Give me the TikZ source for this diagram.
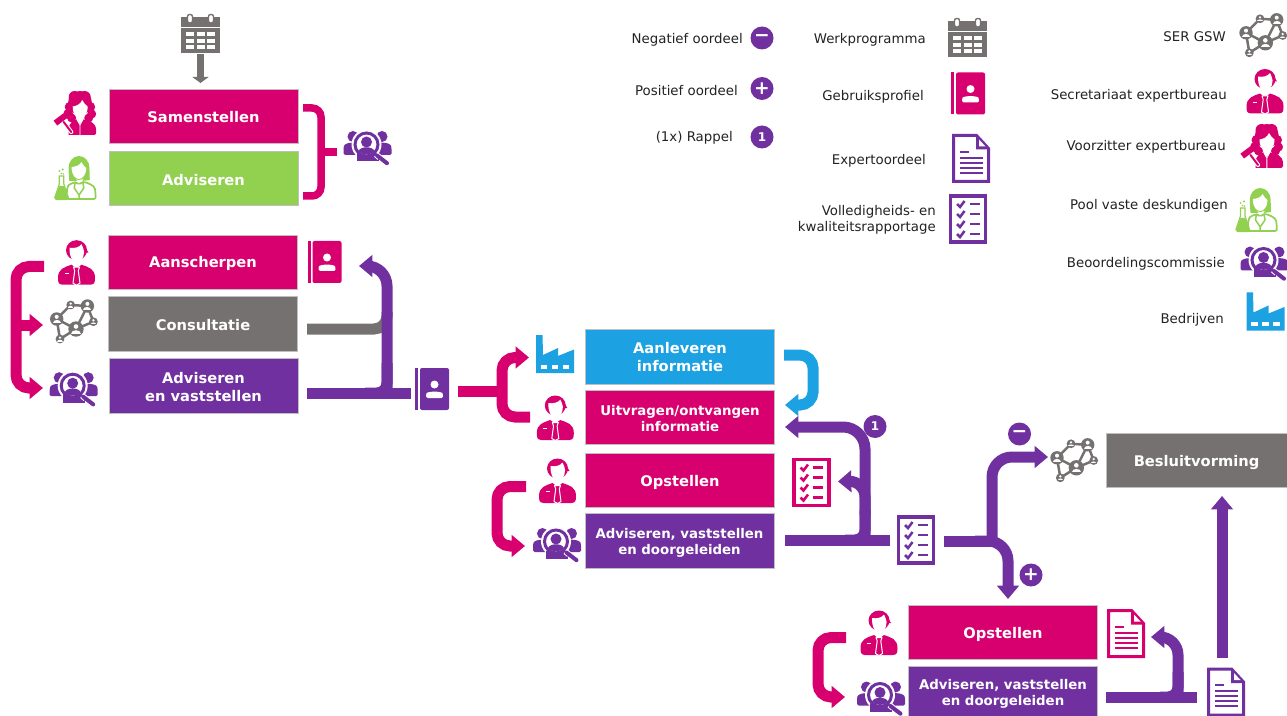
\documentclass[tikz,border=0pt]{standalone}
\usepackage{fontspec}
\setmainfont{DejaVu Sans}
\usetikzlibrary{arrows.meta,calc}
\newdimen\pxu \pxu=0.75pt
\definecolor{brandpink}{HTML}{D8006E}
\definecolor{brandpurple}{HTML}{7030A0}
\definecolor{brandgreen}{HTML}{92D050}
\definecolor{brandgray}{HTML}{767171}
\definecolor{brandblue}{HTML}{1CA1E2}
\definecolor{ink}{HTML}{222222}
% lowers the text of a node: extra height on its first line
\newcommand\dn[2]{\raisebox{0pt}[\dimexpr\height+#1pt][\depth]{#2}}
\newcommand\netdisc[3]{%
  \fill ({#1},{#2}) circle[radius=#3];
  \fill[white] ({#1},{#2-.32*#3}) circle[radius={.3*#3}];
  \fill[white] ({#1-.6*#3},{#2+.6*#3}) .. controls ({#1-.6*#3},{#2+.02*#3}) and ({#1+.6*#3},{#2+.02*#3}) .. ({#1+.6*#3},{#2+.6*#3}) -- cycle;}
\tikzset{
  flowbox/.style={rectangle,fill=#1,draw=black!25,line width=.4pt,minimum width=189\pxu,minimum height=54.5\pxu,inner sep=0pt,text=white,align=center,font=\bfseries\fontsize{11}{13.5}\selectfont},
  smallbox/.style={font=\bfseries\fontsize{10}{12}\selectfont},
  iconbox/.style 2 args={rectangle,minimum width=#1\pxu,minimum height=#2\pxu,inner sep=0pt},
  legendtext/.style={anchor=east,inner sep=0pt,text=ink,align=right,yshift=-1.2pt,font=\fontsize{10}{12}\selectfont},
  badge/.style={circle,fill=brandpurple,minimum size=23\pxu,inner sep=0pt,text=white,font=\bfseries\fontsize{9}{9}\selectfont},
  signbadge/.style={badge,font=\bfseries\fontsize{14}{14}\selectfont},
  conn/.style={draw=#1,line width=11\pxu,rounded corners=13\pxu},
  arrowconn/.style={conn=#1,-{Triangle[length=10pt,width=16pt]}},
  pics/calicon/.style={code={
    \fill[#1] (-19.5,-16.5) rectangle (19.5,19.5);
    \fill[white] (-19.5,-7) rectangle (19.5,-6);
    \foreach \cx in {-10.5,0,10.5}\foreach \cy in {0,6.7,13.4}
      \fill[white] (\cx-4,\cy-2) rectangle (\cx+4,\cy+2);
    \foreach \cx in {-10.5,10.5}
      \draw[#1,fill=white,line width=1.4\pxu,rounded corners=2\pxu] (\cx-2.5,-19.5) rectangle (\cx+2.5,-11);
  }},
  pics/bookicon/.style={code={
    \fill[#1] (-17,-21) rectangle (-14,21);
    \fill[#1,rounded corners=2\pxu] (-12,-21) rectangle (17,21);
    \fill[white] (2.5,-4.5) circle[radius=4];
    \fill[white,rounded corners=1.5\pxu] (-6,9) -- (-6,6) .. controls (-5,2) and (10,2) .. (11,6) -- (11,9) -- cycle;
  }},
  pics/docicon/.style={code={
    \draw[#1,line width=3\pxu,fill=white,line join=miter] (-17.5,-23) -- (5.5,-23) -- (17.5,-10) -- (17.5,23) -- (-17.5,23) -- cycle;
    \fill[#1] (5,-23) -- (5,-9) -- (18,-9) -- cycle;
    \fill[white] (8,-19) -- (8,-12) -- (14.5,-12) -- cycle;
    \fill[#1] (-11,-7.8) rectangle (-2.5,-5.8);
    \foreach \ly in {-.8,4.2,9.2,14.2} \fill[#1] (-11.5,\ly-1.1) rectangle (12,\ly+1.1);
  }},
  pics/checkicon/.style={code={
    \draw[#1,line width=3.2\pxu,fill=white] (-17.5,-23) rectangle (17.5,23);
    \foreach \ly in {-15,-5,5,15}{
      \draw[#1,line width=2.5\pxu] (-11,\ly) -- (-8,\ly+3) -- (-3.5,\ly-3);
      \fill[#1] (1.5,\ly-1.2) rectangle (11.5,\ly+1.2);
    }
  }},
  pics/neticon/.style={code={
    \begin{scope}[draw=#1,fill=#1,line width=2.5\pxu]
    \draw (-17,-2.7) -- (-3,-16.7) -- (13.7,-15.7) -- (19.7,0) -- (2.3,7.3) -- (13.7,-15.7);
    \draw (-17,-2.7) -- (2.3,7.3) -- (-13.7,17.3) -- (-17,-2.7);
    \netdisc{2.3}{7.3}{7.7}
    \netdisc{13.7}{-15.7}{6.7}
    \netdisc{-17}{-2.7}{6.7}
    \netdisc{-3}{-16.7}{4.4}
    \netdisc{19.7}{0}{4.4}
    \netdisc{-13.7}{17.3}{4.4}
    \end{scope}
  }},
  pics/groupicon/.style={code={
    \foreach \sx in {-14.5,14.5}{
      \fill[#1] (\sx,-11) circle[radius=5.5];
      \fill[#1,rounded corners=1.5\pxu] (\sx-9.5,7.5) -- (\sx-9.5,0) .. controls (\sx-8,-6) and (\sx+8,-6) .. (\sx+9.5,0) -- (\sx+9.5,7.5) -- cycle;
    }
    \fill[white] (-1,-3) circle[radius=15];
    \fill[#1] (-11,6) rectangle (11,14);
    \fill[white] (-1,-3) circle[radius=10.5];
    \draw[#1,line width=3\pxu] (-1,-3) circle[radius=11.5];
    \fill[#1] (-1,-5.5) circle[radius=5.5];
    \fill[#1] (-9,3.6) .. controls (-7,-1.5) and (5,-1.5) .. (7,3.6) .. controls (3,8) and (-5,8) .. (-9,3.6) -- cycle;
    \draw[white,line width=6\pxu] (8.5,7) -- (12,10);
    \draw[#1,line width=4\pxu,line cap=round] (9.5,8) -- (19.5,15.7);
  }},
  pics/factoryicon/.style={code={
    \fill[#1] (-19,-19) -- (-12.5,-19) -- (-12,1) -- (3,-6) -- (3,2) -- (19,-4.5) -- (19,19) -- (-19,19) -- cycle;
    \foreach \wx in {-11,0,11} \fill[white] (\wx-3.3,10.7) rectangle (\wx+3.3,14.7);
  }},
  pics/manicon/.style={code={
    \fill[#1] (0,-12.5) ellipse[x radius=10.5,y radius=10];
    \fill[#1] (6,-20) -- (12,-10) -- (7,-10) -- cycle;
    \fill[white] (-7,-15) .. controls (-2,-14) and (3,-15.5) .. (5,-18.5) .. controls (6,-16) and (7.3,-14) .. (7.6,-11) .. controls (7.6,-4) and (3,0) .. (.3,0) .. controls (-3,0) and (-7.3,-5) .. (-7,-15) -- cycle;
    \fill[#1] (-18.5,15) .. controls (-18.5,6) and (-12,4.5) .. (-5,2) -- (0,6) -- (5,2) .. controls (12,4.5) and (18.5,6) .. (18.5,15) .. controls (18.5,20) and (18,21.5) .. (14,22) -- (-14,22) .. controls (-18,21.5) and (-18.5,20) .. (-18.5,15) -- cycle;
    \draw[white,fill=#1,line width=1\pxu,line join=round] (-3,4.5) -- (3,4.5) -- (1.8,8) -- (3.5,20.5) -- (0,22.5) -- (-3.5,20.5) -- (-1.8,8) -- cycle;
    \fill[white] (-12,10.4) rectangle (-8,11.4);
  }},
  pics/judgeicon/.style={code={
    \fill[#1] (5.3,-10) circle[radius=12];
    \foreach \hx/\hy/\hr in {-5/-6/5,-6.5/1/5,-3/5/4.5,15.5/-6/5,17/1/4.5,14/5/4.5,0/-16/6,10/-16/6}
      \fill[#1] (\hx,\hy) circle[radius=\hr];
    \fill[white] (-2,-6.5) .. controls (2,-7) and (6,-9) .. (7.5,-13) .. controls (9,-10) and (11,-8) .. (13,-6.5) .. controls (13,1) and (9,5) .. (5.3,5) .. controls (1.5,5) and (-2,1) .. (-2,-6.5) -- cycle;
    \fill[#1] (-6,17) .. controls (-6,10) and (-2,8) .. (2,6.5) -- (5.3,11) -- (8.6,6.5) .. controls (15,8) and (21.5,9) .. (21.5,18) -- (21.5,20) .. controls (21.5,21.5) and (20,22) .. (19,22) -- (-6,22) -- cycle;
    \draw[white,line width=.9\pxu] (2.5,7) -- (5.3,12) -- (8,7) (5.3,12) -- (5.3,22);
    \draw[white,line width=4.2\pxu,line cap=round] (-11,9) -- (-3.5,19);
    \draw[#1,line width=2\pxu,line cap=round] (-11,9) -- (-3.5,19);
    \fill[#1] (-7.9,5.3) -- (-11.5,.5) -- (-21.1,7.7) -- (-17.5,12.5) -- cycle;
  }},
  pics/scienticon/.style={code={
    \fill[#1] (3.7,-10) ellipse[x radius=10.5,y radius=12];
    \fill[#1] (-6.8,-8) -- (-6,3) -- (2,3) -- cycle;
    \fill[#1] (14.2,-8) -- (14.5,2) -- (7,3) -- cycle;
    \fill[white] (-3.7,-11) .. controls (0,-11) and (5,-13) .. (6,-16) .. controls (7.5,-13) and (9.5,-11) .. (11,-10) .. controls (11,-3) and (7,1) .. (3.7,1) .. controls (0,1) and (-3.7,-3) .. (-3.7,-11) -- cycle;
    \draw[#1,line width=1.7\pxu,fill=white,line join=round,rounded corners=2\pxu] (-9,21) -- (-8,9) .. controls (-6,6) and (-2,5) .. (0,3.5) -- (3.7,7) -- (7.4,3.5) .. controls (12,5) and (19,7) .. (20,13) -- (20.5,21) -- cycle;
    \draw[#1,line width=1.5\pxu,line join=round] (0,3.5) -- (-1,10) -- (3.7,17) -- (8.5,10) -- (7.4,3.5) (3.7,17) -- (3.7,21);
    \draw[#1,line width=1.2\pxu,fill=white] (-16,-2) -- (-16,6) -- (-20.5,19.5) -- (-19,21.5) -- (-8.5,21.5) -- (-7,19.5) -- (-11.5,6) -- (-11.5,-2) -- cycle;
    \fill[#1] (-16,8) -- (-20.5,19.5) -- (-19,21.5) -- (-8.5,21.5) -- (-7,19.5) -- (-11.5,8) -- cycle;
    \foreach \bx/\by/\br in {-16/-7/1,-12.5/-8.5/1.1,-14/-4.5/.9,-12/-4/.8} \fill[#1] (\bx,\by) circle[radius=\br];
  }},
}
\begin{document}
\begin{tikzpicture}[x=0.75pt,y=-0.75pt]
\useasboundingbox (0,0) rectangle (1287,716);
% ---- boxes
\node[flowbox=brandpink]   (samen)  at (203.5,116.5) {\dn{1.5}{Samenstellen}};
\node[flowbox=brandgreen]  (advis)  at (203.5,178.5) {\dn{2.2}{Adviseren}};
\node[flowbox=brandpink]   (aansch) at (203,262.3)   {\dn{2.2}{Aanscherpen}};
\node[flowbox=brandgray]   (consul) at (203,324)     {\dn{2.2}{Consultatie}};
\node[flowbox=brandpurple] (advvas) at (203.5,386)   {\dn{1.5}{Adviseren}\\en vaststellen};
\node[flowbox=brandblue]   (aanlev) at (680,356.7)   {Aanleveren\\informatie};
\node[flowbox=brandpink,smallbox] (uitvr) at (680,417.5) {\dn{1.5}{Uitvragen/ontvangen}\\informatie};
\node[flowbox=brandpink]   (opst1)  at (680,480.5)   {\dn{3}{Opstellen}};
\node[flowbox=brandpurple,smallbox] (advdo1) at (679.5,541) {\dn{3}{Adviseren, vaststellen}\\en doorgeleiden};
\node[flowbox=brandgray,minimum width=181\pxu] (besl) at (1196.5,460.5) {\dn{3}{Besluitvorming}};
\node[flowbox=brandpink]   (opst2)  at (1003,632.5)  {\dn{3}{Opstellen}};
\node[flowbox=brandpurple,smallbox,minimum height=50\pxu] (advdo2) at (1003,691) {\dn{4.5}{Adviseren, vaststellen}\\en doorgeleiden};
% ---- icon anchors
\node[iconbox={39}{39}] (calA)   at (200.5,34) {};
\node[iconbox={43}{44}] (judA)   at (74.7,113) {};
\node[iconbox={41}{44}] (sciA)   at (75.3,178) {};
\node[iconbox={48}{34}] (grpA)   at (367.5,147.5) {};
\node[iconbox={37}{44}] (manB)   at (76.5,262.7) {};
\node[iconbox={48}{43}] (netB)   at (73.7,321.7) {};
\node[iconbox={48}{34}] (grpB)   at (73.7,388.7) {};
\node[iconbox={34}{42}] (bookB)  at (324.5,262) {};
\node[iconbox={34}{42}] (bookC)  at (432,389) {};
\node[iconbox={38}{38}] (facC)   at (555,354) {};
\node[iconbox={37}{44}] (manC)   at (555.3,418) {};
\node[iconbox={37}{44}] (manD)   at (557.5,481) {};
\node[iconbox={48}{34}] (grpD)   at (557,544.5) {};
\node[iconbox={38}{48}] (chkD)   at (811.5,482.5) {};
\node[iconbox={38}{48}] (chkE)   at (916,540) {};
\node[iconbox={48}{43}] (netE)   at (1074,460.5) {};
\node[iconbox={37}{44}] (manF)   at (879,633) {};
\node[iconbox={48}{34}] (grpF)   at (881,698) {};
\node[iconbox={38}{48}] (docF)   at (1126,633.5) {};
\node[iconbox={38}{48}] (docG)   at (1226,692) {};
% ---- connector end points
\coordinate (calTip) at (200.5,83);
\coordinate (brA1) at (303,108);  \coordinate (brA2) at (303,196); \coordinate (brAv) at (321,152); \coordinate (brAe) at (337,152);
\coordinate (brB1) at (44,266.5); \coordinate (brB2) at (43,388);  \coordinate (brBv) at (16,325);  \coordinate (brB3) at (43,325);
\coordinate (gr1)  at (307,329);  \coordinate (gr2)  at (387,312);
\coordinate (pu1)  at (307,393);  \coordinate (pu2)  at (411,393);  \coordinate (puJ)  at (365,393);  \coordinate (puV) at (387,393); \coordinate (puTop) at (387,266); \coordinate (puTip) at (359,266);
\coordinate (fk1)  at (458,391);  \coordinate (fkV)  at (502,391);  \coordinate (fkU)  at (529,357.5); \coordinate (fkD) at (530,417);
\coordinate (bl1)  at (784,355);  \coordinate (blV)  at (813,380);  \coordinate (blT)  at (785,405);
\coordinate (up1)  at (785,540);  \coordinate (up2)  at (890,540);  \coordinate (upJ)  at (845,540);  \coordinate (upV) at (865,540); \coordinate (upTop) at (865,427); \coordinate (upTip) at (785,427);
\coordinate (up3)  at (865,515);  \coordinate (up4)  at (865,481);  \coordinate (up5)  at (838,481.5);
\coordinate (pk1)  at (526,486.5);\coordinate (pkV)  at (497,516);  \coordinate (pkT)  at (525,546);
\coordinate (rf1)  at (944,541);  \coordinate (rfJ)  at (992,541);  \coordinate (rfTop) at (992,457); \coordinate (rfT1) at (1048,457);
\coordinate (rfJ2) at (975,541);  \coordinate (rfD)  at (1008,541); \coordinate (rfT2) at (1008,599);
\coordinate (pm1)  at (846,637.5);\coordinate (pmV)  at (818,667);  \coordinate (pmT)  at (845,697);
\coordinate (fo1)  at (1106,697); \coordinate (fo2)  at (1197,697); \coordinate (foJ)  at (1160,697); \coordinate (foV) at (1178,697); \coordinate (foTop) at (1178,637); \coordinate (foTip) at (1151,637);
\coordinate (ar1)  at (1222,658); \coordinate (ar2)  at (1222,496);
% ---- connectors
\draw[brandgray,line width=7\pxu,-{Triangle[length=4.5pt,width=12pt]}] (calA.south) -- (calTip);
\draw[conn=brandpink,line width=7.5\pxu,rounded corners=9\pxu] (brA1) -| (brAv) |- (brA2);
\draw[conn=brandpink,line width=7.5\pxu,rounded corners=0pt] (brAv) -- (brAe);
\draw[arrowconn=brandpink] (brB1) -| (brBv) |- (brB2);
\draw[arrowconn=brandpink,rounded corners=0pt] (brBv) -- (brB3);
\draw[conn=brandgray] (gr1) -| (gr2);
\draw[arrowconn=brandpurple,rounded corners=20\pxu] (puV) -- (puTop) -- (puTip);
\draw[conn=brandpurple,rounded corners=0pt] (pu1) -- (pu2);
\draw[conn=brandpurple,rounded corners=10\pxu] (puJ) -- (puV) -- ++(0,-30);
\draw[conn=brandpink,rounded corners=0pt] (fk1) -- (fkV);
\draw[arrowconn=brandpink] (fkV) |- (fkU);
\draw[conn=brandpink] (fkV) |- (fkD);
\draw[arrowconn=brandblue] (bl1) -| (blV) |- (blT);
\draw[conn=brandpurple,rounded corners=0pt] (up1) -- (up2);
\draw[arrowconn=brandpurple,rounded corners=22\pxu] (upV) -- (upTop) -- (upTip);
\draw[conn=brandpurple,rounded corners=10\pxu] (upJ) -- (upV) -- ++(0,-30);
\draw[arrowconn=brandpurple,rounded corners=16\pxu] (up3) -- (up4) -- (up5);
\draw[arrowconn=brandpink] (pk1) -| (pkV) |- (pkT);
\draw[conn=brandpurple,rounded corners=0pt] (rf1) -- (rfJ);
\draw[arrowconn=brandpurple,rounded corners=20\pxu] (rfJ) -- (rfTop) -- (rfT1);
\draw[arrowconn=brandpurple,rounded corners=20\pxu] (rfJ2) -- (rfD) -- (rfT2);
\draw[arrowconn=brandpink] (pm1) -| (pmV) |- (pmT);
\draw[conn=brandpurple,rounded corners=0pt] (fo1) -- (fo2);
\draw[arrowconn=brandpurple,rounded corners=18\pxu] (foV) -- (foTop) -- (foTip);
\draw[conn=brandpurple,rounded corners=10\pxu] (foJ) -- (foV) -- ++(0,-25);
\draw[arrowconn=brandpurple,rounded corners=0pt] (ar1) -- (ar2);
% ---- badges on connectors
\node[badge] (bdg1) at (875,426.5) {1};
\node[signbadge] (bdgM) at (1019.5,434) {−};
\node[signbadge] (bdgP) at (1031,575) {+};
% ---- icons in the flow
\pic at (calA) {calicon=brandgray};
\pic at (judA) {judgeicon=brandpink};
\pic at (sciA) {scienticon=brandgreen};
\pic at (grpA) {groupicon=brandpurple};
\pic at (manB) {manicon=brandpink};
\pic at (netB) {neticon=brandgray};
\pic at (grpB) {groupicon=brandpurple};
\pic at (bookB) {bookicon=brandpink};
\pic at (bookC) {bookicon=brandpurple};
\pic at (facC) {factoryicon=brandblue};
\pic at (manC) {manicon=brandpink};
\pic at (manD) {manicon=brandpink};
\pic at (grpD) {groupicon=brandpurple};
\pic at (chkD) {checkicon=brandpink};
\pic at (chkE) {checkicon=brandpurple};
\pic at (netE) {neticon=brandgray};
\pic at (manF) {manicon=brandpink};
\pic at (grpF) {groupicon=brandpurple};
\pic at (docF) {docicon=brandpink};
\pic at (docG) {docicon=brandpurple};
% ---- legend
\node[legendtext] (lgNeg) at (743,38) {Negatief oordeel};
\node[signbadge] (lgNegB) at (762,38) {−};
\node[legendtext] (lgPos) at (738,89) {Positief oordeel};
\node[signbadge] (lgPosB) at (762,88.5) {+};
\node[legendtext] (lgRap) at (733,136) {(1x) Rappel};
\node[badge] (lgRapB) at (762,137) {1};
\node[legendtext] (lgWer) at (926,38.5) {Werkprogramma};
\node[iconbox={39}{39}] (lgCal) at (967.5,38) {};
\pic at (lgCal) {calicon=brandgray};
\node[legendtext] (lgGeb) at (924,95) {Gebruiksprofiel};
\node[iconbox={34}{42}] (lgBook) at (968,93.5) {};
\pic at (lgBook) {bookicon=brandpink};
\node[legendtext] (lgExp) at (926,159) {Expertoordeel};
\node[iconbox={38}{48}] (lgDoc) at (971,158.5) {};
\pic at (lgDoc) {docicon=brandpurple};
\node[legendtext] (lgVol) at (936,218) {Volledigheids- en\\kwaliteitsrapportage};
\node[iconbox={38}{48}] (lgChk) at (968,219) {};
\pic at (lgChk) {checkicon=brandpurple};
\node[legendtext] (lgSer) at (1226,35) {SER GSW};
\node[iconbox={48}{43}] (lgNet) at (1263,35.5) {};
\pic at (lgNet) {neticon=brandgray};
\node[legendtext] (lgSec) at (1227,94) {Secretariaat expertbureau};
\node[iconbox={37}{44}] (lgMan) at (1265,91.5) {};
\pic at (lgMan) {manicon=brandpink};
\node[legendtext] (lgVoo) at (1226,145) {Voorzitter expertbureau};
\node[iconbox={43}{44}] (lgJud) at (1261.5,146) {};
\pic at (lgJud) {judgeicon=brandpink};
\node[legendtext] (lgPoo) at (1228,204) {Pool vaste deskundigen};
\node[iconbox={41}{44}] (lgSci) at (1256.5,210) {};
\pic at (lgSci) {scienticon=brandgreen};
\node[legendtext] (lgBeo) at (1225,262) {Beoordelingscommissie};
\node[iconbox={44}{34}] (lgGrp) at (1264.5,263) {};
\pic at (lgGrp) {groupicon=brandpurple};
\node[legendtext] (lgBed) at (1224,318) {Bedrijven};
\node[iconbox={38}{38}] (lgFac) at (1265.5,311.5) {};
\pic at (lgFac) {factoryicon=brandblue};
\end{tikzpicture}
\end{document}
